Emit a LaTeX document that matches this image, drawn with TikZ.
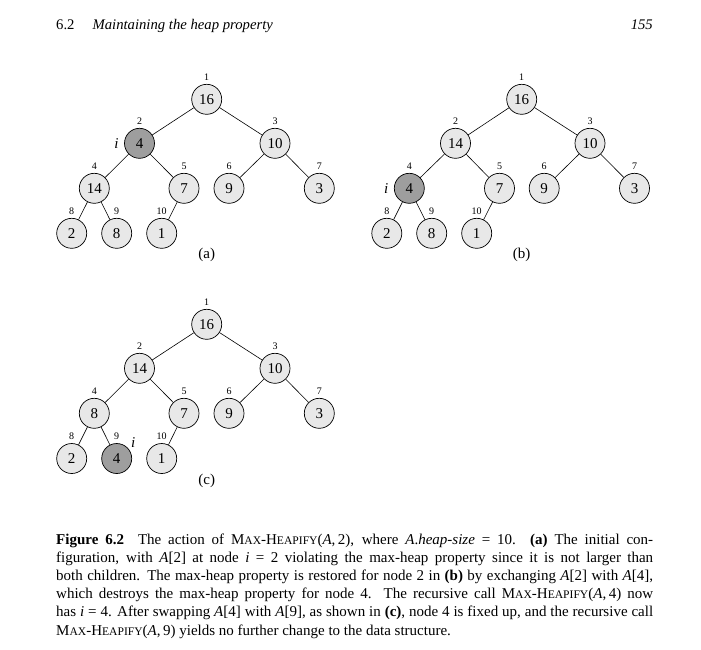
\documentclass[tikz,border=0pt]{standalone}
\usepackage{fontspec}
\setmainfont{Liberation Serif}
\newcommand{\scs}[1]{{\fontsize{11.6}{12}\selectfont #1}}
\newcommand{\mhfy}{M\scs{AX}-H\scs{EAPIFY}}
\definecolor{nodelight}{gray}{0.91}
\definecolor{nodedark}{gray}{0.62}
\tikzset{
  hn/.style={circle, draw=black, line width=0.7pt, fill=nodelight, minimum size=30pt, inner sep=0pt,
             font=\fontsize{15}{16}\selectfont},
  hd/.style={hn, fill=nodedark},
  idx/.style={inner sep=0pt, font=\fontsize{10}{12}\selectfont},
  ilab/.style={inner sep=0pt, font=\fontsize{15}{16}\selectfont\itshape},
  sub/.style={inner sep=0pt, font=\fontsize{15}{16}\selectfont},
  edge/.style={line width=0.6pt},
}
\newcommand{\hnode}[5]{\node[#1] (#2) at (#3) {#4};
  \node[idx] (#2l) at ([yshift=22.5pt]#2.center) {#5};}
\begin{document}
\begin{tikzpicture}[x=1pt,y=-1pt]
\useasboundingbox (0,0) rectangle (701,649);
% header
\node[anchor=base west, inner sep=0pt, font=\fontsize{14.7}{16}\selectfont] (hdr) at (56,29)
  {6.2\hspace{18pt}\textit{Maintaining the heap property}};
\node[anchor=base east, inner sep=0pt, font=\fontsize{14.7}{16}\selectfont\itshape] (pg) at (653,29) {155};
% tree (a)
\hnode{hn}{a1}{206.7,99.3}{16}{1}
\hnode{hd}{a2}{139.5,143.3}{4}{2}
\hnode{hn}{a3}{275,143.3}{10}{3}
\hnode{hn}{a4}{94.3,188.3}{14}{4}
\hnode{hn}{a5}{184,188.3}{7}{5}
\hnode{hn}{a6}{229,188.3}{9}{6}
\hnode{hn}{a7}{319.3,188.3}{3}{7}
\hnode{hn}{a8}{71.7,233.3}{2}{8}
\hnode{hn}{a9}{116.7,233.3}{8}{9}
\hnode{hn}{a10}{161.7,233.3}{1}{10}
\draw[edge] (a1)--(a2) (a1)--(a3) (a2)--(a4) (a2)--(a5) (a3)--(a6) (a3)--(a7) (a4)--(a8) (a4)--(a9) (a5)--(a10);
\node[ilab] (ai) at ([xshift=-23pt]a2.center) {i};
\node[sub] (acap) at (206.7,254.5) {(a)};
% tree (b)
\hnode{hn}{b1}{521.7,99.3}{16}{1}
\hnode{hn}{b2}{455.5,143.3}{14}{2}
\hnode{hn}{b3}{590,143.3}{10}{3}
\hnode{hd}{b4}{409.3,188.3}{4}{4}
\hnode{hn}{b5}{499.5,188.3}{7}{5}
\hnode{hn}{b6}{544.2,188.3}{9}{6}
\hnode{hn}{b7}{634.5,188.3}{3}{7}
\hnode{hn}{b8}{386.8,233.3}{2}{8}
\hnode{hn}{b9}{431.7,233.3}{8}{9}
\hnode{hn}{b10}{476.7,233.3}{1}{10}
\draw[edge] (b1)--(b2) (b1)--(b3) (b2)--(b4) (b2)--(b5) (b3)--(b6) (b3)--(b7) (b4)--(b8) (b4)--(b9) (b5)--(b10);
\node[ilab] (bi) at ([xshift=-23pt]b4.center) {i};
\node[sub] (bcap) at (521.7,254.5) {(b)};
% tree (c)
\hnode{hn}{c1}{206.7,324.3}{16}{1}
\hnode{hn}{c2}{139.5,368.3}{14}{2}
\hnode{hn}{c3}{275,368.3}{10}{3}
\hnode{hn}{c4}{94.3,413.3}{8}{4}
\hnode{hn}{c5}{184,413.3}{7}{5}
\hnode{hn}{c6}{229,413.3}{9}{6}
\hnode{hn}{c7}{319.3,413.3}{3}{7}
\hnode{hn}{c8}{71.7,458.5}{2}{8}
\hnode{hd}{c9}{116.7,458.5}{4}{9}
\hnode{hn}{c10}{161.7,458.5}{1}{10}
\draw[edge] (c1)--(c2) (c1)--(c3) (c2)--(c4) (c2)--(c5) (c3)--(c6) (c3)--(c7) (c4)--(c8) (c4)--(c9) (c5)--(c10);
\node[ilab] (ci) at ([xshift=16.6pt,yshift=15.6pt]c9.center) {i};
\node[sub] (ccap) at (206.7,481) {(c)};
% caption
\node[anchor=base west, inner sep=0pt, font=\fontsize{15}{18.2}\selectfont] (cap) at (56,544)
 {\parbox[t]{597pt}{\setlength{\parindent}{0pt}\fontsize{15}{18.2}\selectfont
 \textbf{Figure 6.2}\hspace{14pt}The action of \mhfy(\textit{A},\,2), where \textit{A}.\textit{heap-size} = 10. \textbf{(a)} The initial con-\linebreak
 figuration, with \textit{A}[2] at node \textit{i} = 2 violating the max-heap property since it is not larger than\linebreak
 both children. The max-heap property is restored for node 2 in \textbf{(b)} by exchanging \textit{A}[2] with \textit{A}[4],\linebreak
 which destroys the max-heap property for node 4. The recursive call \mhfy(\textit{A},\,4) now\linebreak
 has \textit{i} = 4. After swapping \textit{A}[4] with \textit{A}[9], as shown in \textbf{(c)}, node 4 is fixed up, and the recursive call\linebreak
 \mhfy(\textit{A},\,9) yields no further change to the data structure.}};
\end{tikzpicture}
\end{document}
